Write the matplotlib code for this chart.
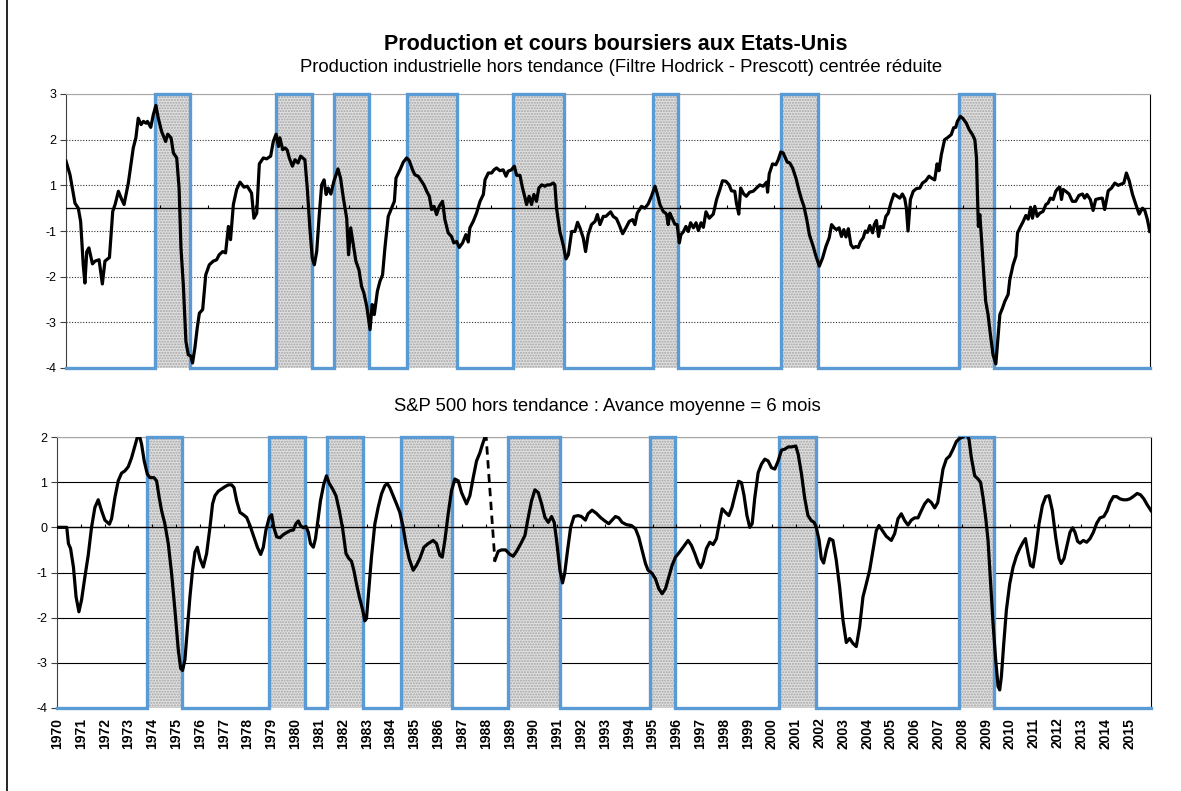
import numpy as np
import matplotlib
matplotlib.use('Agg')
import matplotlib.pyplot as plt
from matplotlib.lines import Line2D

plt.rcParams['font.family'] = ['Liberation Sans', 'DejaVu Sans']
plt.rcParams['axes.unicode_minus'] = False

# periods shaded in both panels (decimal years)
regime_start = [1973.77, 1978.88, 1981.34, 1984.45, 1988.95, 1994.88, 2000.29, 2007.84]
regime_end = [1975.24, 1980.41, 1982.85, 1986.58, 1991.10, 1995.93, 2001.86, 2009.31]

# top panel: industrial production, in axis units (labels below)
prod_year = [
    1970.00, 1970.17, 1970.38, 1970.52, 1970.62, 1970.73, 1970.80, 1970.88, 1970.97, 1971.12,
    1971.23, 1971.40, 1971.54, 1971.65, 1971.84, 1971.98, 1972.08, 1972.22, 1972.36, 1972.46,
    1972.64, 1972.85, 1972.96, 1973.06, 1973.18, 1973.28, 1973.39, 1973.45, 1973.59, 1973.70,
    1973.81, 1973.91, 1974.05, 1974.22, 1974.31, 1974.45, 1974.55, 1974.69, 1974.79, 1974.87,
    1974.97, 1975.08, 1975.18, 1975.29, 1975.36, 1975.46, 1975.56, 1975.65, 1975.79, 1975.92,
    1976.07, 1976.24, 1976.38, 1976.49, 1976.64, 1976.76, 1976.88, 1976.97, 1977.09, 1977.23,
    1977.37, 1977.54, 1977.68, 1977.86, 1977.96, 1978.08, 1978.19, 1978.36, 1978.50, 1978.67,
    1978.78, 1978.90, 1979.00, 1979.06, 1979.18, 1979.28, 1979.37, 1979.46, 1979.59, 1979.70,
    1979.83, 1979.94, 1980.12, 1980.22, 1980.33, 1980.43, 1980.52, 1980.62, 1980.73, 1980.83,
    1980.93, 1981.02, 1981.11, 1981.22, 1981.35, 1981.52, 1981.63, 1981.75, 1981.89, 1981.97,
    1982.06, 1982.17, 1982.28, 1982.41, 1982.52, 1982.62, 1982.74, 1982.88, 1982.97, 1983.06,
    1983.19, 1983.30, 1983.41, 1983.51, 1983.65, 1983.79, 1983.91, 1983.98, 1984.15, 1984.29,
    1984.43, 1984.54, 1984.68, 1984.78, 1984.92, 1985.16, 1985.28, 1985.39, 1985.49, 1985.59,
    1985.70, 1985.81, 1985.95, 1986.05, 1986.19, 1986.33, 1986.43, 1986.55, 1986.66, 1986.80,
    1986.94, 1987.04, 1987.11, 1987.25, 1987.39, 1987.54, 1987.68, 1987.75, 1987.89, 1988.03,
    1988.13, 1988.24, 1988.38, 1988.52, 1988.64, 1988.73, 1988.87, 1988.99, 1989.09, 1989.23,
    1989.34, 1989.41, 1989.51, 1989.62, 1989.72, 1989.82, 1989.93, 1990.03, 1990.15, 1990.29,
    1990.39, 1990.50, 1990.64, 1990.71, 1990.78, 1990.92, 1991.06, 1991.18, 1991.28, 1991.42,
    1991.56, 1991.67, 1991.77, 1991.91, 1992.01, 1992.12, 1992.26, 1992.41, 1992.51, 1992.62,
    1992.76, 1992.87, 1992.97, 1993.07, 1993.18, 1993.32, 1993.43, 1993.58, 1993.72, 1993.86,
    1994.00, 1994.10, 1994.20, 1994.38, 1994.52, 1994.66, 1994.80, 1994.95, 1995.05, 1995.16,
    1995.30, 1995.44, 1995.51, 1995.58, 1995.68, 1995.79, 1995.89, 1995.98, 1996.05, 1996.15,
    1996.26, 1996.36, 1996.46, 1996.58, 1996.69, 1996.79, 1996.90, 1997.00, 1997.11, 1997.25,
    1997.42, 1997.56, 1997.70, 1997.81, 1997.95, 1998.09, 1998.19, 1998.33, 1998.40, 1998.50,
    1998.58, 1998.71, 1998.82, 1998.96, 1999.11, 1999.25, 1999.39, 1999.53, 1999.68, 1999.72,
    1999.79, 1999.93, 2000.07, 2000.17, 2000.28, 2000.38, 2000.55, 2000.66, 2000.78, 2000.92,
    2001.06, 2001.16, 2001.26, 2001.38, 2001.49, 2001.63, 2001.77, 2001.91, 2002.05, 2002.19,
    2002.33, 2002.43, 2002.54, 2002.64, 2002.75, 2002.85, 2002.95, 2003.04, 2003.14, 2003.25,
    2003.35, 2003.46, 2003.56, 2003.66, 2003.77, 2003.86, 2003.95, 2004.05, 2004.17, 2004.24,
    2004.33, 2004.42, 2004.50, 2004.62, 2004.73, 2004.83, 2004.94, 2005.07, 2005.21, 2005.32,
    2005.43, 2005.53, 2005.60, 2005.67, 2005.77, 2005.89, 2006.03, 2006.17, 2006.28, 2006.42,
    2006.56, 2006.66, 2006.80, 2006.90, 2006.98, 2007.08, 2007.22, 2007.36, 2007.50, 2007.60,
    2007.69, 2007.76, 2007.89, 2008.00, 2008.14, 2008.26, 2008.40, 2008.50, 2008.57, 2008.61,
    2008.65, 2008.71, 2008.78, 2008.88, 2008.96, 2009.06, 2009.16, 2009.27, 2009.39, 2009.49,
    2009.56, 2009.67, 2009.77, 2009.91, 2009.98, 2010.12, 2010.24, 2010.31, 2010.41, 2010.55,
    2010.66, 2010.76, 2010.86, 2010.94, 2011.04, 2011.14, 2011.25, 2011.39, 2011.51, 2011.60,
    2011.70, 2011.82, 2011.93, 2012.03, 2012.10, 2012.17, 2012.24, 2012.35, 2012.49, 2012.63,
    2012.77, 2012.91, 2013.06, 2013.15, 2013.25, 2013.39, 2013.51, 2013.62, 2013.76, 2013.90,
    2014.00, 2014.15, 2014.29, 2014.43, 2014.57, 2014.71, 2014.81, 2014.92, 2015.04, 2015.18,
    2015.32, 2015.46, 2015.60, 2015.70, 2015.81, 2015.91,
]
prod_value = [
    1.53, 1.23, 0.61, 0.50, 0.21, -0.74, -1.14, -0.45, -0.37, -0.72,
    -0.66, -0.63, -1.16, -0.66, -0.58, 0.43, 0.58, 0.87, 0.69, 0.58,
    1.05, 1.82, 2.04, 2.47, 2.33, 2.40, 2.36, 2.40, 2.27, 2.55,
    2.75, 2.47, 2.18, 1.96, 2.12, 2.04, 1.71, 1.60, 0.94, -0.37,
    -1.18, -2.42, -2.71, -2.74, -2.89, -2.56, -2.12, -1.80, -1.72, -0.96,
    -0.74, -0.66, -0.63, -0.52, -0.45, -0.48, 0.10, -0.19, 0.58, 0.91,
    1.07, 0.96, 0.98, 0.83, 0.28, 0.39, 1.47, 1.60, 1.58, 1.64,
    1.96, 2.12, 1.85, 2.04, 1.78, 1.82, 1.77, 1.60, 1.42, 1.56,
    1.49, 1.64, 1.56, 0.94, 0.07, -0.59, -0.74, -0.45, 0.36, 1.01,
    1.12, 0.80, 0.94, 0.81, 1.09, 1.36, 1.16, 0.72, 0.28, -0.52,
    0.07, -0.30, -0.66, -0.85, -1.21, -1.36, -1.65, -2.16, -1.61, -1.83,
    -1.32, -1.10, -0.96, -0.37, 0.32, 0.50, 0.65, 1.16, 1.34, 1.51,
    1.60, 1.54, 1.34, 1.23, 1.20, 1.01, 0.87, 0.76, 0.47, 0.54,
    0.36, 0.54, 0.65, 0.25, -0.04, -0.12, -0.26, -0.23, -0.36, -0.26,
    -0.08, -0.24, 0.07, 0.21, 0.39, 0.65, 0.80, 1.12, 1.27, 1.27,
    1.34, 1.38, 1.32, 1.34, 1.20, 1.31, 1.34, 1.42, 1.22, 1.22,
    0.94, 0.80, 0.58, 0.76, 0.58, 0.80, 0.65, 0.94, 1.01, 0.98,
    1.01, 1.01, 1.05, 1.01, 0.50, -0.01, -0.30, -0.61, -0.52, -0.01,
    -0.01, 0.19, 0.07, -0.15, -0.45, -0.08, 0.14, 0.21, 0.36, 0.14,
    0.32, 0.32, 0.37, 0.42, 0.32, 0.27, 0.14, -0.06, 0.07, 0.21,
    0.25, 0.14, 0.39, 0.54, 0.50, 0.59, 0.76, 0.98, 0.81, 0.58,
    0.43, 0.37, 0.14, 0.39, 0.28, 0.15, 0.14, -0.26, -0.08, -0.02,
    0.10, -0.01, 0.18, 0.07, 0.18, 0.01, 0.18, 0.08, 0.42, 0.28,
    0.37, 0.69, 0.91, 1.10, 1.09, 1.01, 0.88, 0.87, 0.61, 0.37,
    0.94, 0.81, 0.76, 0.85, 0.87, 0.94, 1.01, 0.98, 1.07, 0.85,
    1.25, 1.47, 1.45, 1.56, 1.73, 1.71, 1.51, 1.49, 1.38, 1.16,
    0.87, 0.69, 0.54, 0.25, -0.08, -0.30, -0.55, -0.77, -0.59, -0.34,
    -0.15, 0.14, 0.07, 0.03, 0.07, -0.12, 0.03, -0.13, 0.05, -0.30,
    -0.37, -0.34, -0.36, -0.23, -0.15, 0.00, -0.03, 0.12, -0.04, 0.14,
    0.23, -0.12, 0.10, 0.07, 0.32, 0.39, 0.61, 0.81, 0.76, 0.72,
    0.81, 0.71, 0.50, 0.00, 0.69, 0.87, 0.93, 0.94, 1.05, 1.10,
    1.20, 1.16, 1.12, 1.47, 1.32, 1.67, 2.00, 2.05, 2.11, 2.26,
    2.27, 2.40, 2.51, 2.46, 2.36, 2.22, 2.11, 2.00, 1.60, 0.80,
    0.10, 0.36, -0.15, -0.96, -1.54, -1.83, -2.27, -2.71, -2.91, -2.27,
    -1.83, -1.69, -1.54, -1.39, -1.07, -0.74, -0.55, -0.04, 0.07, 0.21,
    0.34, 0.26, 0.52, 0.28, 0.54, 0.32, 0.39, 0.43, 0.58, 0.61,
    0.72, 0.69, 0.87, 0.94, 0.96, 0.69, 0.91, 0.87, 0.81, 0.65,
    0.65, 0.78, 0.81, 0.72, 0.80, 0.69, 0.45, 0.69, 0.71, 0.72,
    0.47, 0.88, 0.94, 1.05, 1.00, 1.03, 1.05, 1.27, 1.10, 0.80,
    0.58, 0.37, 0.50, 0.45, 0.25, -0.01,
]
prod_ticks = [-3, -2, -1, 0, 1, 2, 3]
prod_tick_labels = ['-4', '-3', '-2', '-1', '1', '2', '3']

# bottom panel: S&P 500 detrended
sp_year = [
    1970.00, 1970.41, 1970.48, 1970.57, 1970.69, 1970.80, 1970.92, 1971.03, 1971.17, 1971.31,
    1971.45, 1971.59, 1971.73, 1971.87, 1972.01, 1972.20, 1972.29, 1972.43, 1972.57, 1972.71,
    1972.85, 1972.99, 1973.13, 1973.27, 1973.37, 1973.45, 1973.55, 1973.66, 1973.79, 1973.90,
    1974.07, 1974.18, 1974.29, 1974.39, 1974.53, 1974.67, 1974.81, 1974.95, 1975.09, 1975.19,
    1975.27, 1975.37, 1975.47, 1975.58, 1975.69, 1975.79, 1975.89, 1976.00, 1976.14, 1976.28,
    1976.42, 1976.53, 1976.63, 1976.77, 1976.91, 1977.05, 1977.19, 1977.33, 1977.43, 1977.54,
    1977.68, 1977.82, 1977.96, 1978.10, 1978.27, 1978.41, 1978.55, 1978.66, 1978.77, 1978.91,
    1979.01, 1979.10, 1979.22, 1979.36, 1979.50, 1979.66, 1979.80, 1979.92, 1980.03, 1980.13,
    1980.22, 1980.34, 1980.45, 1980.55, 1980.64, 1980.76, 1980.85, 1980.94, 1981.06, 1981.20,
    1981.31, 1981.43, 1981.57, 1981.71, 1981.85, 1981.99, 1982.13, 1982.25, 1982.36, 1982.46,
    1982.57, 1982.69, 1982.83, 1982.92, 1982.99, 1983.10, 1983.20, 1983.34, 1983.48, 1983.62,
    1983.76, 1983.86, 1983.97, 1984.11, 1984.25, 1984.39, 1984.53, 1984.64, 1984.78, 1984.95,
    1985.09, 1985.23, 1985.40, 1985.58, 1985.79, 1985.93, 1986.07, 1986.17, 1986.28, 1986.42,
    1986.56, 1986.70, 1986.84, 1986.98, 1987.19, 1987.33, 1987.47, 1987.61, 1987.75, 1987.86,
    1987.96, 1988.00, 1988.38, 1988.52, 1988.66, 1988.83, 1989.01, 1989.15, 1989.29, 1989.47,
    1989.64, 1989.78, 1989.92, 1990.06, 1990.20, 1990.34, 1990.48, 1990.62, 1990.76, 1990.87,
    1990.97, 1991.11, 1991.22, 1991.31, 1991.43, 1991.56, 1991.70, 1991.87, 1992.01, 1992.18,
    1992.29, 1992.46, 1992.64, 1992.83, 1993.00, 1993.16, 1993.30, 1993.44, 1993.58, 1993.72,
    1993.90, 1994.11, 1994.28, 1994.42, 1994.56, 1994.70, 1994.81, 1994.98, 1995.12, 1995.26,
    1995.40, 1995.54, 1995.68, 1995.82, 1995.96, 1996.10, 1996.28, 1996.49, 1996.63, 1996.77,
    1996.91, 1997.02, 1997.12, 1997.26, 1997.40, 1997.54, 1997.68, 1997.78, 1997.92, 1998.06,
    1998.20, 1998.33, 1998.47, 1998.61, 1998.73, 1998.84, 1998.96, 1999.08, 1999.18, 1999.29,
    1999.43, 1999.57, 1999.71, 1999.85, 1999.99, 2000.13, 2000.27, 2000.41, 2000.55, 2000.69,
    2000.83, 2001.01, 2001.11, 2001.25, 2001.38, 2001.52, 2001.66, 2001.78, 2001.87, 2001.99,
    2002.08, 2002.18, 2002.29, 2002.43, 2002.57, 2002.71, 2002.85, 2002.99, 2003.13, 2003.27,
    2003.41, 2003.55, 2003.69, 2003.83, 2003.97, 2004.11, 2004.25, 2004.39, 2004.50, 2004.64,
    2004.81, 2005.02, 2005.16, 2005.30, 2005.44, 2005.58, 2005.72, 2005.86, 2006.00, 2006.14,
    2006.28, 2006.42, 2006.56, 2006.70, 2006.84, 2006.97, 2007.07, 2007.19, 2007.33, 2007.47,
    2007.61, 2007.75, 2007.89, 2008.03, 2008.17, 2008.28, 2008.38, 2008.52, 2008.66, 2008.77,
    2008.87, 2008.98, 2009.08, 2009.18, 2009.29, 2009.40, 2009.50, 2009.57, 2009.64, 2009.74,
    2009.85, 2009.99, 2010.13, 2010.27, 2010.41, 2010.55, 2010.65, 2010.76, 2010.86, 2010.97,
    2011.08, 2011.22, 2011.36, 2011.50, 2011.64, 2011.78, 2011.92, 2012.06, 2012.15, 2012.27,
    2012.41, 2012.52, 2012.63, 2012.73, 2012.84, 2012.94, 2013.08, 2013.22, 2013.36, 2013.50,
    2013.64, 2013.78, 2013.94, 2014.08, 2014.20, 2014.34, 2014.48, 2014.62, 2014.76, 2014.90,
    2015.03, 2015.17, 2015.34, 2015.48, 2015.62, 2015.76, 2015.92,
]
sp_value = [
    0.00, 0.00, -0.36, -0.47, -0.88, -1.54, -1.87, -1.61, -1.10, -0.62,
    0.00, 0.44, 0.61, 0.37, 0.16, 0.07, 0.19, 0.66, 1.03, 1.20,
    1.25, 1.34, 1.54, 1.80, 1.99, 2.05, 1.84, 1.47, 1.18, 1.10,
    1.10, 1.03, 0.66, 0.37, 0.07, -0.36, -1.02, -1.83, -2.71, -3.12,
    -3.17, -2.93, -2.27, -1.54, -0.95, -0.55, -0.44, -0.69, -0.88, -0.58,
    0.00, 0.52, 0.70, 0.80, 0.85, 0.90, 0.94, 0.94, 0.88, 0.59,
    0.33, 0.28, 0.22, 0.04, -0.22, -0.44, -0.60, -0.44, -0.06, 0.22,
    0.28, 0.00, -0.21, -0.23, -0.16, -0.11, -0.07, -0.06, 0.08, 0.14,
    0.04, -0.01, 0.02, -0.11, -0.36, -0.44, -0.25, 0.11, 0.59, 0.96,
    1.14, 0.97, 0.85, 0.70, 0.37, -0.03, -0.58, -0.69, -0.75, -0.95,
    -1.25, -1.54, -1.83, -2.07, -2.02, -1.32, -0.66, 0.07, 0.44, 0.74,
    0.92, 0.97, 0.88, 0.70, 0.52, 0.33, 0.00, -0.36, -0.69, -0.95,
    -0.84, -0.69, -0.44, -0.36, -0.29, -0.36, -0.62, -0.66, -0.29, 0.30,
    0.81, 1.07, 1.03, 0.77, 0.52, 0.70, 1.10, 1.47, 1.65, 1.84,
    1.99, 2.10, -0.73, -0.53, -0.50, -0.50, -0.60, -0.64, -0.53, -0.36,
    -0.18, 0.22, 0.59, 0.83, 0.77, 0.52, 0.22, 0.11, 0.24, 0.11,
    -0.29, -0.95, -1.23, -1.02, -0.51, 0.00, 0.24, 0.26, 0.24, 0.16,
    0.30, 0.38, 0.31, 0.21, 0.14, 0.08, 0.16, 0.24, 0.21, 0.11,
    0.06, 0.04, -0.03, -0.22, -0.51, -0.80, -0.95, -1.02, -1.14, -1.36,
    -1.47, -1.36, -1.10, -0.84, -0.66, -0.57, -0.44, -0.29, -0.40, -0.58,
    -0.79, -0.89, -0.77, -0.47, -0.33, -0.38, -0.25, 0.04, 0.41, 0.33,
    0.26, 0.44, 0.74, 1.02, 0.99, 0.70, 0.26, 0.00, 0.08, 0.66,
    1.21, 1.40, 1.51, 1.47, 1.32, 1.29, 1.47, 1.71, 1.73, 1.78,
    1.78, 1.80, 1.62, 1.18, 0.66, 0.26, 0.15, 0.11, 0.00, -0.29,
    -0.69, -0.79, -0.51, -0.25, -0.29, -0.73, -1.32, -2.05, -2.55, -2.46,
    -2.57, -2.64, -2.20, -1.54, -1.25, -0.95, -0.51, -0.07, 0.04, -0.07,
    -0.20, -0.29, -0.14, 0.19, 0.30, 0.15, 0.05, 0.16, 0.21, 0.21,
    0.37, 0.52, 0.61, 0.55, 0.43, 0.55, 0.88, 1.29, 1.51, 1.58,
    1.73, 1.90, 1.97, 2.00, 2.08, 1.95, 1.54, 1.14, 1.07, 0.99,
    0.66, 0.22, -0.29, -1.17, -2.13, -2.93, -3.52, -3.60, -3.30, -2.57,
    -1.83, -1.25, -0.88, -0.64, -0.47, -0.33, -0.25, -0.58, -0.84, -0.88,
    -0.51, 0.08, 0.48, 0.68, 0.70, 0.37, -0.22, -0.69, -0.80, -0.69,
    -0.36, -0.11, -0.01, -0.11, -0.31, -0.35, -0.29, -0.33, -0.25, -0.11,
    0.09, 0.21, 0.24, 0.37, 0.55, 0.68, 0.68, 0.63, 0.61, 0.61,
    0.63, 0.68, 0.75, 0.72, 0.63, 0.50, 0.37,
]
# the jump after the 1987 crash is drawn dashed
sp_gap = (1988.00, 1988.38)

years = list(range(1970, 2016))
x_min, x_max = 1970.0, 2015.92

W, H = 1181, 791
fig = plt.figure(figsize=(W / 100, H / 100), dpi=100)
fig.patch.set_facecolor('white')

blue = '#5b9bd5'


def shade(ax, lo, hi):
    for s, e in zip(regime_start, regime_end):
        ax.axvspan(s, e, facecolor='#e0e0e0', edgecolor='#a4a4a4', hatch='......',
                   lw=0, zorder=1)
    # blue outline of the regime series, running along the floor
    xs, ys = [x_min], [lo]
    for s, e in zip(regime_start, regime_end):
        xs += [s, s, e, e]
        ys += [lo, hi, hi, lo]
    xs.append(x_max)
    ys.append(lo)
    ax.plot(xs, ys, color=blue, lw=2.4, zorder=3, clip_on=False,
            solid_joinstyle='miter')


def style(ax):
    ax.set_xlim(x_min, x_max)
    ax.spines['top'].set_color('#a6a6a6')
    ax.spines['right'].set_color('black')
    ax.spines['left'].set_color('#404040')
    ax.spines['bottom'].set_visible(False)
    ax.set_axisbelow(True)
    ax.tick_params(axis='y', length=4, width=0.8, color='#404040', labelsize=9, pad=3)


# ---- top panel
ax1 = fig.add_axes([66 / W, 1 - 368 / H, (1150 - 66) / W, (368 - 94) / H])
style(ax1)
ax1.set_ylim(-3, 3)
ax1.set_yticks(prod_ticks)
ax1.set_yticklabels(prod_tick_labels)
ax1.set_xticks([])
ax1.yaxis.grid(True, linestyle=(0, (1, 1.5)), color='#303030', lw=0.8)
shade(ax1, -3, 3)
ax1.axhline(0.5, color='black', lw=0.9, zorder=4)
sec1 = ax1.secondary_xaxis(3.5 / 6)
sec1.set_xticks(list(range(1972, 2016, 2)))
sec1.set_xticklabels([])
sec1.spines['bottom'].set_visible(False)
sec1.tick_params(length=2.5, width=0.8, direction='out')
sec1.set_zorder(4)
ax1.plot(prod_year, prod_value, color='black', lw=2.3, zorder=5, solid_joinstyle='round')

# ---- bottom panel
ax2 = fig.add_axes([57 / W, 1 - 708 / H, (1151 - 57) / W, (708 - 437) / H])
style(ax2)
ax2.set_ylim(-4, 2)
ax2.set_yticks(range(-4, 3))
ax2.yaxis.grid(True, linestyle='-', color='black', lw=0.8)
ax2.set_xticks(years)
ax2.set_xticklabels([str(y) for y in years], rotation=90, fontweight='bold', fontsize=10)
ax2.tick_params(axis='x', length=0, pad=7)
shade(ax2, -4, 2)
ax2.axhline(0, color='black', lw=0.9, zorder=4)
sec2 = ax2.secondary_xaxis(4 / 6)
sec2.set_xticks(years[1:])
sec2.set_xticklabels([])
sec2.spines['bottom'].set_visible(False)
sec2.tick_params(length=2.5, width=0.8, direction='out')
sec2.set_zorder(4)

sp_year = np.array(sp_year)
sp_value = np.array(sp_value)
before = sp_year <= sp_gap[0]
after = sp_year >= sp_gap[1]
jump = (sp_year >= sp_gap[0]) & (sp_year <= sp_gap[1])
ax2.plot(sp_year[before], sp_value[before], color='black', lw=2.3, zorder=5)
ax2.plot(sp_year[jump], sp_value[jump], color='black', lw=2.0, ls=(0, (3, 2)), zorder=5)
ax2.plot(sp_year[after], sp_value[after], color='black', lw=2.3, zorder=5)

# ---- titles
fig.text(616 / W, 1 - 45 / H, 'Production et cours boursiers aux Etats-Unis',
         ha='center', va='center', fontsize=15.5, fontweight='bold')
fig.text(621 / W, 1 - 67 / H,
         'Production industrielle hors tendance (Filtre Hodrick - Prescott) centrée réduite',
         ha='center', va='center', fontsize=13.3)
fig.text(607 / W, 1 - 407 / H, 'S&P 500 hors tendance : Avance moyenne = 6 mois',
         ha='center', va='center', fontsize=13.3)

# chart frame
fig.add_artist(Line2D([7 / W, 7 / W], [0, 1], color='black', lw=1.2))

fig.savefig('out.png', dpi=100)
